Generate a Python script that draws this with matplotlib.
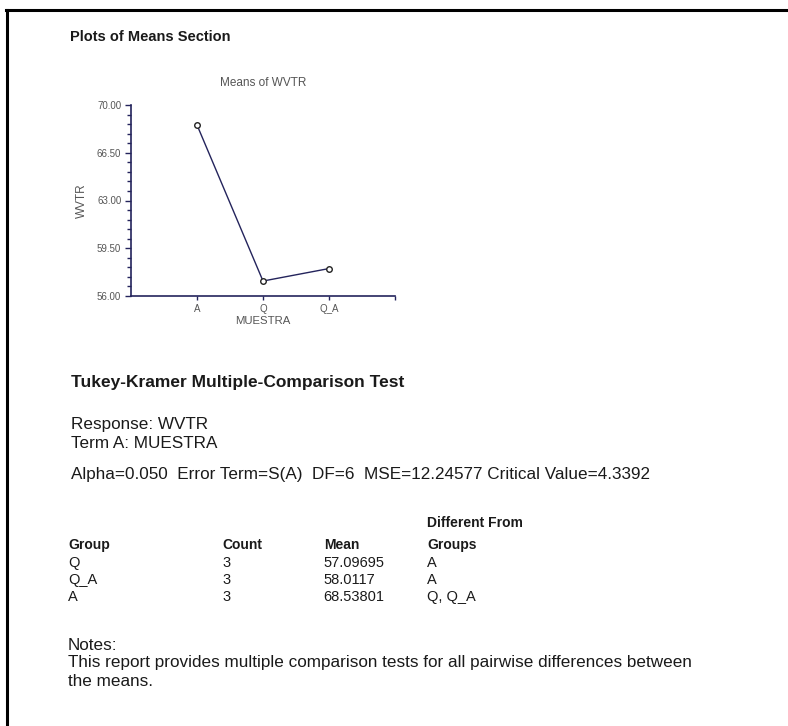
import matplotlib.pyplot as plt
from matplotlib.ticker import MultipleLocator, FixedLocator
from matplotlib.lines import Line2D

plt.rcParams['font.family'] = ['Liberation Sans', 'DejaVu Sans']

grupos = ['A', 'Q', 'Q_A']
medias = [68.53801, 57.09695, 58.0117]

tabla_grupo = ['Q', 'Q_A', 'A']
tabla_count = ['3', '3', '3']
tabla_mean = ['57.09695', '58.0117', '68.53801']
tabla_diff = ['A', 'A', 'Q, Q_A']

W, H = 788, 726
fig = plt.figure(figsize=(W / 100, H / 100), dpi=100)

# marco (solo arriba e izquierda)
fig.add_artist(Line2D([6 / W, 1], [1 - 9.5 / H, 1 - 9.5 / H], color='black', lw=2.2))
fig.add_artist(Line2D([7 / W, 7 / W], [0, 1 - 9.5 / H], color='black', lw=2.2))

azul = '#24245c'
gris = '#555555'

ax = fig.add_axes([131 / W, 1 - 296 / H, 264 / W, 191 / H])
x = [1, 2, 3]
ax.plot(x, medias, color=azul, lw=1.0, marker='o', markersize=4,
        markerfacecolor='white', markeredgecolor='#222222', markeredgewidth=1.0)
ax.set_xlim(0, 4)
ax.set_ylim(56, 70)
ax.xaxis.set_major_locator(FixedLocator([1, 2, 3, 4]))
ax.set_xticklabels(grupos + [''])
ax.yaxis.set_major_locator(MultipleLocator(3.5))
ax.yaxis.set_minor_locator(MultipleLocator(0.7))
ax.yaxis.set_major_formatter(lambda v, p: f'{v:.2f}')
for s in ['top', 'right']:
    ax.spines[s].set_visible(False)
for s in ['left', 'bottom']:
    ax.spines[s].set_color(azul)
    ax.spines[s].set_linewidth(1.2)
ax.tick_params(axis='both', which='both', colors=azul, labelcolor=gris, labelsize=7, width=1)
ax.tick_params(axis='y', which='major', length=4, pad=3)
ax.tick_params(axis='y', which='minor', length=3)
ax.tick_params(axis='x', which='major', length=3, pad=3)
ax.set_xlabel('MUESTRA', fontsize=8.2, color=gris, labelpad=1)
ax.set_ylabel('WVTR', fontsize=8.5, color=gris)
ax.yaxis.set_label_coords(-0.163, 0.5)
ax.set_title('Means of WVTR', fontsize=8.5, color=gris, pad=14)
ax.patch.set_alpha(0)

negro = '#1a1a1a'
fs = 10.5
fp = 12.3


def txt(px, py, s, bold=False, size=fs):
    fig.text(px / W, 1 - py / H, s, fontsize=size, color=negro,
             fontweight='bold' if bold else 'normal', va='center', ha='left')


txt(70, 37, 'Plots of Means Section', bold=True, size=10.5)
txt(71, 383, 'Tukey-Kramer Multiple-Comparison Test', bold=True, size=12.5)
txt(71, 425, 'Response: WVTR', size=fp)
txt(71, 444, 'Term A: MUESTRA', size=fp)
txt(71, 475, 'Alpha=0.050  Error Term=S(A)  DF=6  MSE=12.24577 Critical Value=4.3392', size=fp)
txt(427, 523, 'Different From', bold=True, size=10)
txt(68, 545, 'Group', bold=True, size=10)
txt(222, 545, 'Count', bold=True, size=10)
txt(324, 545, 'Mean', bold=True, size=10)
txt(427, 545, 'Groups', bold=True, size=10)
for i in range(3):
    y = 563 + 17 * i
    txt(68, y, tabla_grupo[i])
    txt(222, y, tabla_count[i])
    txt(323, y, tabla_mean[i])
    txt(427, y, tabla_diff[i])
txt(68, 645, 'Notes:', size=fp)
txt(68, 663, 'This report provides multiple comparison tests for all pairwise differences between', size=fp)
txt(68, 681, 'the means.', size=fp)

fig.savefig('out.png', dpi=100, facecolor='white')
